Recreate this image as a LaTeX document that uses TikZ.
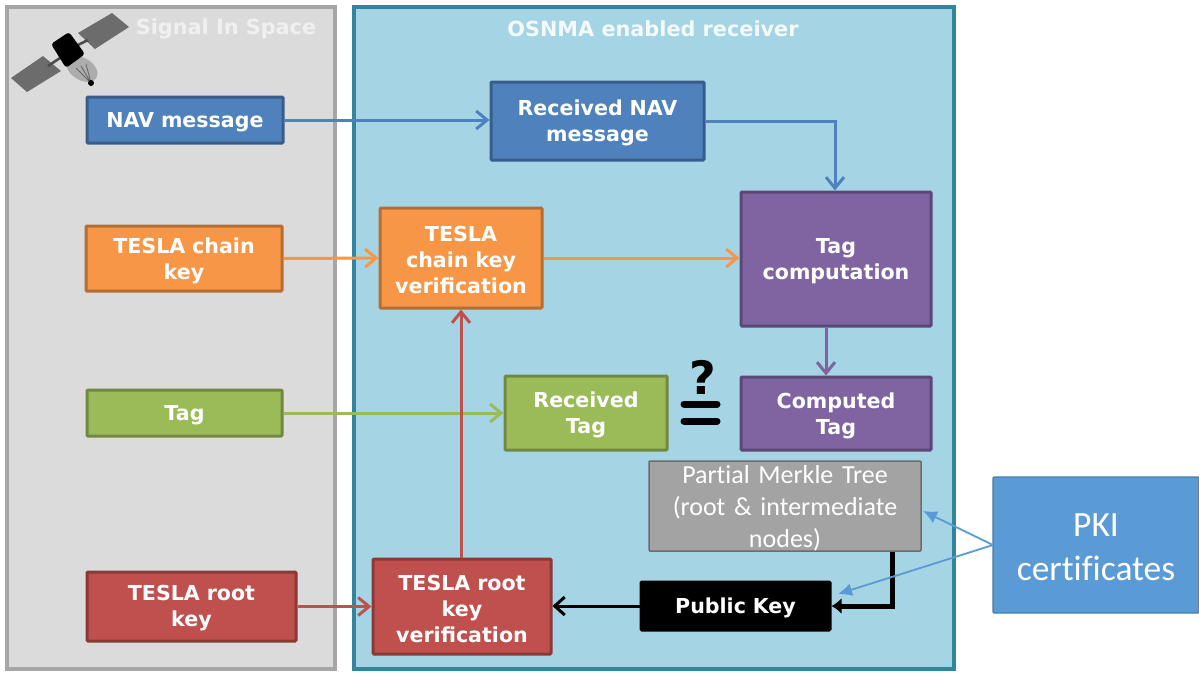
\documentclass[tikz,border=0pt]{standalone}
\usepackage{fontspec}
\setmainfont{DejaVu Sans}
\newfontfamily\calib[Ligatures={NoCommon,NoRequired}]{Carlito}
\usetikzlibrary{arrows.meta}
\definecolor{cBlue}{HTML}{4F81BD}\definecolor{cBlueD}{HTML}{385D8A}
\definecolor{cOr}{HTML}{F79646}\definecolor{cOrD}{HTML}{B66D31}
\definecolor{cGr}{HTML}{9BBB59}\definecolor{cGrD}{HTML}{71893F}
\definecolor{cRed}{HTML}{C0504D}\definecolor{cRedD}{HTML}{8C3836}
\definecolor{cPu}{HTML}{8064A2}\definecolor{cPuD}{HTML}{5C4776}
\definecolor{cPanel}{HTML}{A5D5E4}\definecolor{cPanelD}{HTML}{31859C}
\definecolor{cPki}{HTML}{5B9BD5}
\tikzset{
 x=1pt,y=-1pt,
 panel/.style={line width=3.5pt},
 box/.style={draw,line width=3pt,rounded corners=1pt,text=white,align=center,inner sep=0pt,
   execute at end node={\par\vspace*{-4pt}},
   font=\fontsize{20.6}{26}\selectfont\bfseries},
 sz/.style 2 args={minimum width=#1pt,minimum height=#2pt,text width=#1pt},
 blueb/.style={box,fill=cBlue,draw=cBlueD},
 orb/.style={box,fill=cOr,draw=cOrD},
 grb/.style={box,fill=cGr,draw=cGrD},
 redb/.style={box,fill=cRed,draw=cRedD},
 pub/.style={box,fill=cPu,draw=cPuD},
 conn/.style={line width=3pt,-{Straight Barb[length=11pt,width=18pt,line width=3pt]}},
 thickc/.style={line width=5pt,black,-{Latex[length=10pt,width=16pt]}},
 pkic/.style={line width=1.8pt,cPki,-{Latex[length=14pt,width=13pt,fill=cPki]}},
}
\begin{document}
\begin{tikzpicture}
\useasboundingbox (0,0) rectangle (1199,672);
\fill[white] (0,0) rectangle (1199,672);
% panels
\draw[panel,fill=gray!28,draw=gray!70] (7,7) rectangle (335,669);
\draw[panel,fill=cPanel,draw=cPanelD] (354,7) rectangle (954,669);
\node[text=white!88!gray,font=\fontsize{20.8}{24}\selectfont\bfseries] (sis) at (226,29) {Signal In Space};
\node[text=white!88!cPanel,font=\fontsize{20.8}{24}\selectfont\bfseries] (osn) at (653,29) {OSNMA enabled receiver};
% satellite
\fill[gray!85!black] (11,78)--(43,56)--(61,71)--(27,92)--cycle;
\fill[gray!85!black] (78,33)--(112,13)--(129,27)--(95,49)--cycle;
\draw[line width=2.5pt,black!70] (48,66)--(60,58) (76,46)--(88,40);
\fill[gray!65,rotate around={-32:(82,69)}] (82,69) ellipse [x radius=17,y radius=11];
\draw[black!60,line width=0.8pt] (76,68)--(91,83) (81,66)--(91,83) (86,64)--(91,83);
\fill[black] (91,83) circle (3);
\fill[black,rounded corners=3pt] (51,44)--(69,32)--(85,54)--(66,68)--cycle;
% boxes left
\node[blueb,sz={196}{46}] (nav) at (185,120) {NAV message};
\node[orb,sz={196}{65}] (chain) at (184,258.5) {TESLA chain\\key};
\node[grb,sz={195}{46}] (tag) at (184.5,413) {Tag};
\node[redb,sz={209}{69}] (root) at (191.5,606.5) {TESLA root\\key};
% boxes right
\node[blueb,sz={213}{78}] (rnav) at (597.5,121) {Received NAV\\message};
\node[orb,sz={162}{100}] (cver) at (461,258) {TESLA\\chain key\\verification};
\node[pub,sz={190}{134}] (tcomp) at (836,259) {Tag\\computation};
\node[grb,sz={162}{74}] (rtag) at (586,413) {Received\\Tag};
\node[pub,sz={190}{73}] (ctag) at (836,413.5) {Computed\\Tag};
\node[box,fill=gray!72,draw=gray!85!black,line width=1.5pt,sz={272}{90},execute at end node={},
  font=\calib\fontsize{26}{32}\selectfont] (mt) at (785,506) {Partial Merkle Tree\\(root \& intermediate\\nodes)};
\node[box,fill=black,draw=black,sz={189}{48}] (pk) at (735.5,606) {Public Key};
\node[redb,sz={178}{95}] (rver) at (462,606.5) {TESLA root\\key\\verification};
\node[box,fill=cPki,draw=cPki!80!black,line width=1.2pt,sz={206}{136},execute at end node={},
  font=\calib\fontsize{35.5}{44}\selectfont] (pki) at (1096,545) {PKI\\certificates};
% question mark and equals
\node[font=\fontsize{46}{50}\selectfont\bfseries,inner sep=0pt] (q) at (703,377) {?};
\coordinate (e1a) at (684,404); \coordinate (e1b) at (717,404);
\coordinate (e2a) at (684,421); \coordinate (e2b) at (717,421);
\draw[line width=7pt,line cap=round,black] (e1a)--(e1b) (e2a)--(e2b);
% connectors
\draw[conn,cBlue] (nav.east) -- (rnav.west |- nav.east);
\draw[conn,cBlue] (rnav.east) -| (tcomp.north -| 835,0);
\draw[conn,cOr] (chain.east) -- (cver.west);
\draw[conn,cOr] (cver.east) -- (tcomp.west |- cver.east);
\draw[conn,cPu] (tcomp.south -| 826,0) -- (ctag.north -| 826,0);
\draw[conn,cGr] (tag.east) -- (rtag.west |- tag.east);
\draw[conn,cRed] (root.east) -- (rver.west);
\draw[conn,cRed] (cver.south |- rver.north) -- (cver.south);
\draw[line width=3pt,black,-{Straight Barb[length=10pt,width=18pt,line width=3pt]}] (pk.west) -- (rver.east |- pk.west);
\draw[thickc] (mt.south -| 892,0) |- (pk.east);
\coordinate (pkia) at (993,545);
\coordinate (mtr) at (923,511);
\coordinate (pkr) at (838,594);
\draw[pkic] (pkia) -- (mtr);
\draw[pkic] (pkia) -- (pkr);
\end{tikzpicture}
\end{document}
